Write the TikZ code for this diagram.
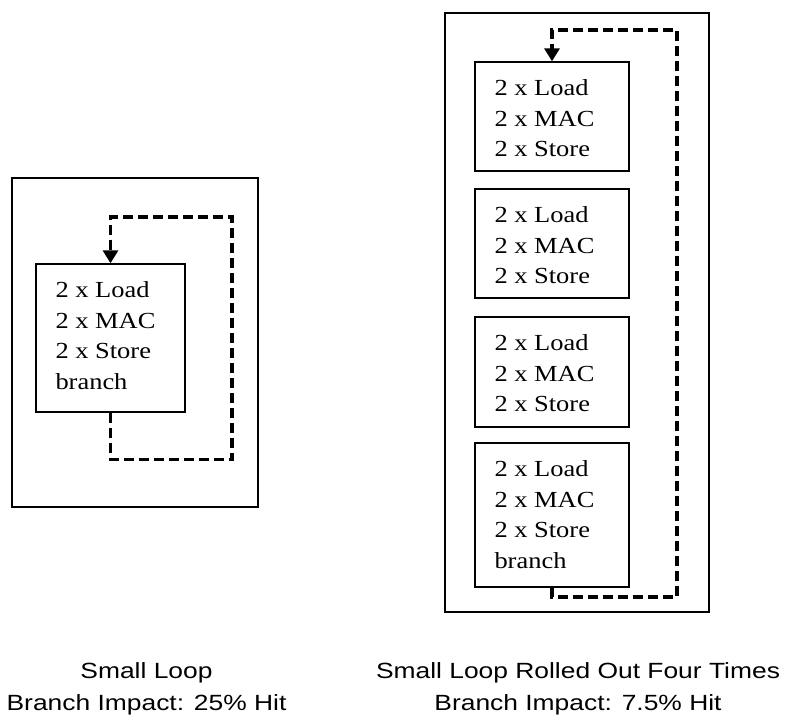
\documentclass[tikz,border=0pt]{standalone}
\usepackage{fontspec}
\setmainfont[FakeStretch=1.15]{Liberation Serif}
\setsansfont[FakeStretch=1.2]{Liberation Sans}
\usetikzlibrary{arrows.meta,calc}
\begin{document}
\begin{tikzpicture}[x=1pt,y=-1pt,
  frame/.style={draw, line width=1.4pt, inner sep=0pt},
  blk/.style={draw, line width=1.4pt, inner sep=0pt},
  txt/.style={inner sep=0pt, anchor=base west, font=\fontsize{23}{30.4}\selectfont},
  captext/.style={inner sep=0pt, anchor=base, font=\sffamily\fontsize{22}{32}\selectfont},
  loopline/.style={line width=3.4pt, dash pattern=on 10pt off 5pt, -{Triangle[width=15pt,length=13pt]}}
]
\useasboundingbox (0,0) rectangle (786,715);

% left: small loop
\node[frame, minimum width=246pt, minimum height=329pt] (L) at (135,342.5) {};
\node[blk, minimum width=149pt, minimum height=148pt] (s) at (110.5,338) {};
\node[txt] (st) at ($(s.north west)+(20,34.5)$) {\parbox[t]{125pt}{2 x Load\\2 x MAC\\2 x Store\\branch}};
\coordinate (sa) at (232,459.5);
\coordinate (sb) at (232,217);
\draw[loopline] (s.south) -- (s.south |- sa) -- (sa) -- (sb) -- (s.north |- sb) -- (s.north);

% right: rolled out four times
\node[frame, minimum width=264pt, minimum height=599pt] (R) at (577,312.5) {};
\node[blk, minimum width=154pt, minimum height=109pt] (b1) at (552,116.5) {};
\node[blk, minimum width=154pt, minimum height=109pt] (b2) at (552,243.5) {};
\node[blk, minimum width=154pt, minimum height=110pt] (b3) at (552,372) {};
\node[blk, minimum width=154pt, minimum height=144pt] (b4) at (552,515) {};
\node[txt] (t1) at ($(b1.north west)+(20,34.5)$) {\parbox[t]{130pt}{2 x Load\\2 x MAC\\2 x Store}};
\node[txt] (t2) at ($(b2.north west)+(20,34.5)$) {\parbox[t]{130pt}{2 x Load\\2 x MAC\\2 x Store}};
\node[txt] (t3) at ($(b3.north west)+(20,34.5)$) {\parbox[t]{130pt}{2 x Load\\2 x MAC\\2 x Store}};
\node[txt] (t4) at ($(b4.north west)+(20,34.5)$) {\parbox[t]{130pt}{2 x Load\\2 x MAC\\2 x Store\\branch}};
\coordinate (ra) at (677,597);
\coordinate (rb) at (677,30);
\draw[loopline] (b4.south) -- (b4.south |- ra) -- (ra) -- (rb) -- (b1.north |- rb) -- (b1.north);

% captions
\node[captext] (c1a) at (146.5,678) {Small Loop};
\node[captext] (c1b) at (146.5,710.5) {Branch Impact: 25\% Hit};
\node[captext] (c2a) at (578,678) {Small Loop Rolled Out Four Times};
\node[captext] (c2b) at (578,710.5) {Branch Impact: 7.5\% Hit};
\end{tikzpicture}
\end{document}
